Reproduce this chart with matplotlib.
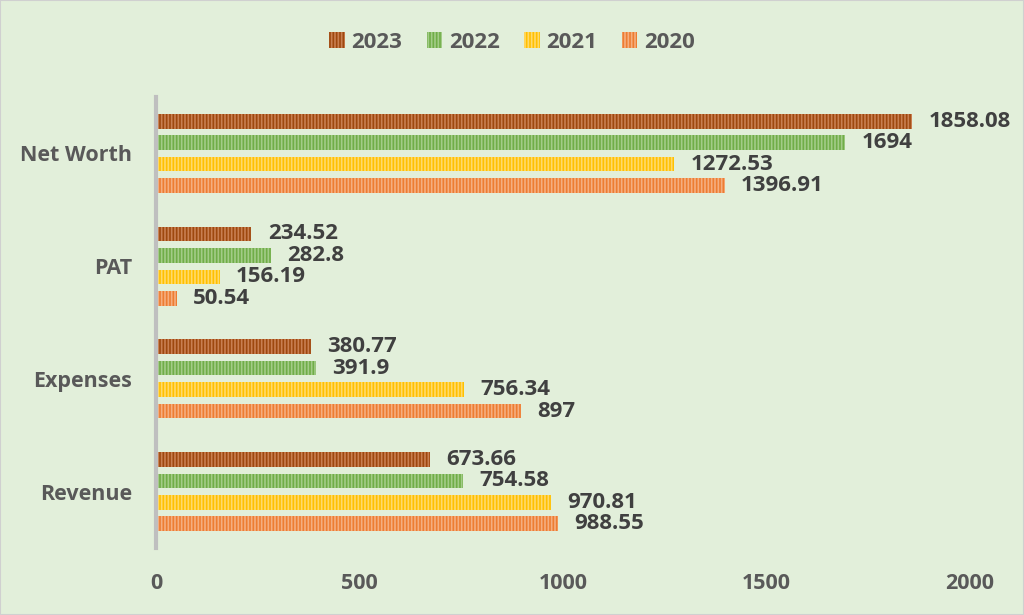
import numpy as np
import matplotlib.pyplot as plt

categories = ['Revenue', 'Expenses', 'PAT', 'Net Worth']
years = ['2023', '2022', '2021', '2020']
v2023 = [673.66, 380.77, 234.52, 1858.08]
v2022 = [754.58, 391.9, 282.8, 1694]
v2021 = [970.81, 756.34, 156.19, 1272.53]
v2020 = [988.55, 897, 50.54, 1396.91]
values = [v2023, v2022, v2021, v2020]

colors = ['#9E480E', '#70AD47', '#FFC000', '#ED7D31']
stripes = ['#C97F52', '#A3CC88', '#FFDA6A', '#F5AE80']

plt.rcParams['font.family'] = ['Open Sans', 'DejaVu Sans']
plt.rcParams['hatch.linewidth'] = 1.2
bg = '#E2EFDA'

fig = plt.figure(figsize=(10.24, 6.15), dpi=100, facecolor=bg)
ax = fig.add_axes([156/1024, 1-548/615, (970-156)/1024, (548-97)/615])
ax.set_facecolor(bg)

y = np.arange(len(categories))
step = 0.19
h = 0.13
for i in range(4):
    pos = y + (1.5 - i)*step
    bars = ax.barh(pos, values[i], height=h, color=colors[i], edgecolor=stripes[i],
                   hatch='|||||', linewidth=0, label=years[i])
    for b, v in zip(bars, values[i]):
        ax.text(v + 40, b.get_y() + h/2, f'{v:g}', va='center', ha='left',
                fontsize=16, fontweight='bold', color='#404040')

ax.set_xlim(0, 2000)
ax.set_ylim(-0.5, 3.5)
ax.set_xticks([0, 500, 1000, 1500, 2000])
ax.set_yticks(y)
ax.set_yticklabels(categories)
for s in ['top', 'right', 'bottom']:
    ax.spines[s].set_visible(False)
ax.spines['left'].set_color('#BFBFBF')
ax.spines['left'].set_linewidth(3)
ax.tick_params(length=0, labelsize=15.5, labelcolor='#595959')
ax.tick_params(axis='y', pad=17)
ax.tick_params(axis='x', pad=18)
for t in ax.get_xticklabels() + ax.get_yticklabels():
    t.set_fontweight('bold')

leg = fig.legend(loc='center', bbox_to_anchor=(0.5, 1-42/615), ncol=4, frameon=False,
                 prop={'size': 16, 'weight': 'bold'}, handlelength=0.7, handleheight=0.7,
                 columnspacing=1.1, handletextpad=0.3)
for t in leg.get_texts():
    t.set_color('#595959')

fig.patches.append(plt.Rectangle((0, 0), 1, 1, transform=fig.transFigure, fill=False,
                                 edgecolor='#D0D0D0', linewidth=1.5))
fig.savefig('out.png', dpi=100, facecolor=bg)
